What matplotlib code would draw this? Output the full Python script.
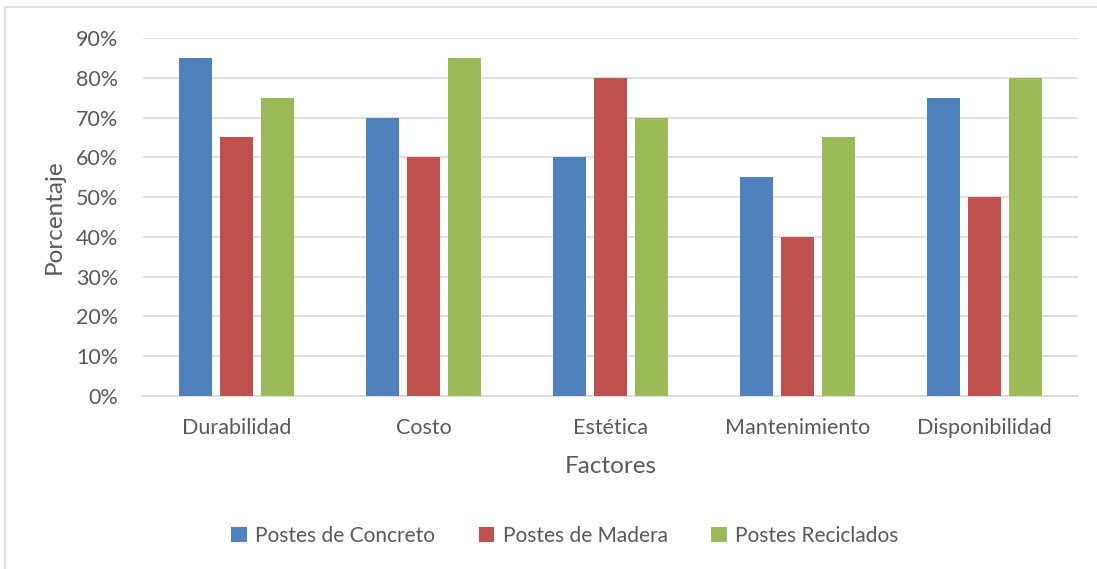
import matplotlib

matplotlib.use("Agg")
import matplotlib.pyplot as plt
import numpy as np
from matplotlib.patches import Rectangle

factores = ["Durabilidad", "Costo", "Estética", "Mantenimiento", "Disponibilidad"]
series = ["Postes de Concreto", "Postes de Madera", "Postes Reciclados"]
concreto = [85, 70, 60, 55, 75]
madera = [65, 60, 80, 40, 50]
reciclados = [75, 85, 70, 65, 80]
colores = ["#4F81BD", "#C0504D", "#9BBB59"]

TEXT = "#595959"
plt.rcParams["font.family"] = ["Lato", "DejaVu Sans"]

fig = plt.figure(figsize=(10.97, 5.69), dpi=100)
ax = fig.add_axes([0.1304, 0.304, 0.8523, 0.6292])

x = np.arange(len(factores))
width = 0.177
step = 0.22
for i, (vals, name) in enumerate(zip([concreto, madera, reciclados], series)):
    ax.bar(x + (i - 1) * step, vals, width, color=colores[i], label=name, zorder=3)

ax.set_xlim(-0.5, len(factores) - 0.5)
ax.set_ylim(0, 90)
ax.set_yticks(np.arange(0, 91, 10))
ax.set_yticklabels([f"{v}%" for v in range(0, 91, 10)])
ax.set_xticks(x)
ax.set_xticklabels(factores)
ax.tick_params(axis="both", length=0, labelsize=15.5, colors=TEXT)
ax.tick_params(axis="x", pad=16)
ax.tick_params(axis="y", pad=18)
ax.grid(axis="y", color="#D9D9D9", linewidth=1.2, zorder=0)
for side in ("top", "right", "left"):
    ax.spines[side].set_visible(False)
ax.spines["bottom"].set_color("#D9D9D9")
ax.spines["bottom"].set_linewidth(1.2)

ax.set_xlabel("Factores", fontsize=17.5, color=TEXT, labelpad=13)
ax.set_ylabel("Porcentaje", fontsize=17.5, color=TEXT, labelpad=8)

fig.legend(
    loc="center",
    bbox_to_anchor=(0.515, 0.058),
    ncol=3,
    frameon=False,
    fontsize=15,
    labelcolor=TEXT,
    handlelength=0.75,
    handleheight=0.75,
    handletextpad=0.4,
    columnspacing=2.1,
)

fig.patches.append(
    Rectangle((5 / 1097, -0.05), 1.2, 1.05 - 7 / 569,
              transform=fig.transFigure, fill=False,
              edgecolor="#D9D9D9", linewidth=1.2)
)

fig.savefig("out.png", dpi=100)
